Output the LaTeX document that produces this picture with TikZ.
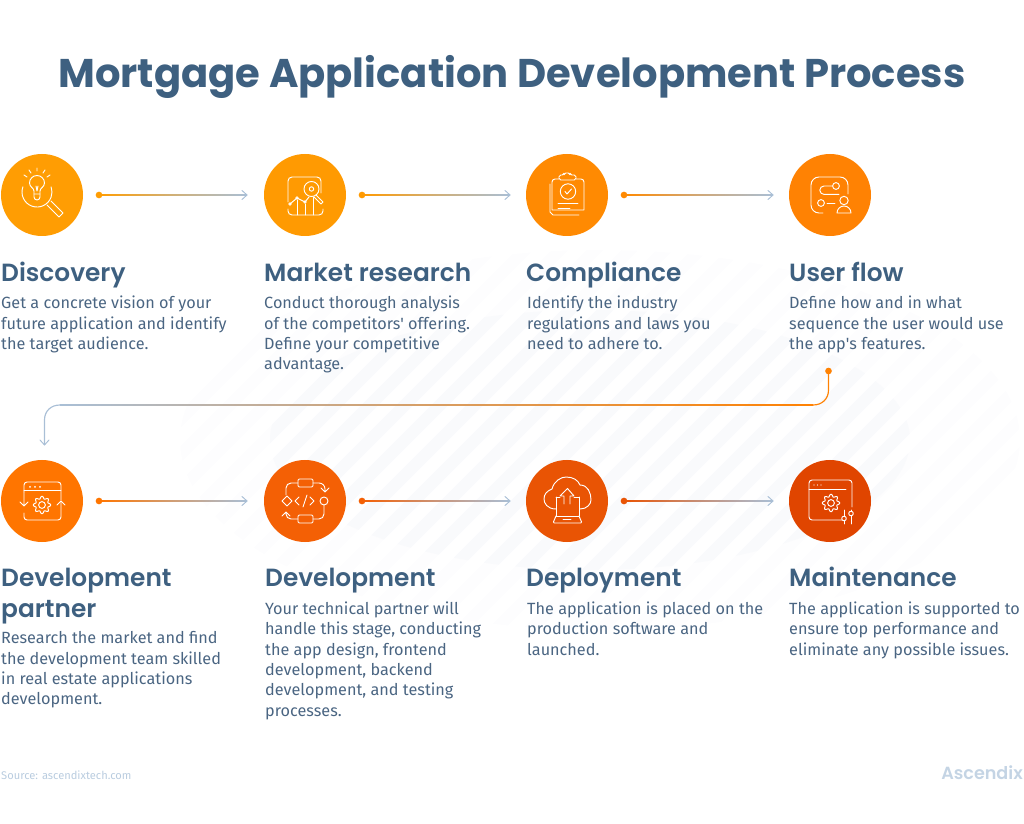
\documentclass[tikz,border=0pt]{standalone}
\usepackage{fontspec}
\setmainfont{Fira Sans}
\newfontfamily\headfont{Poppins SemiBold}
\newfontfamily\titlefont{Poppins}
\usetikzlibrary{calc}

\definecolor{titleblue}{HTML}{3E6080}
\definecolor{bodyblue}{HTML}{4A6582}
\definecolor{paleblue}{HTML}{B9CCDF}
\definecolor{lineblue}{HTML}{A9BFD6}
\definecolor{stripeout}{HTML}{FDFDFE}
\definecolor{stripein}{HTML}{F9FAFC}
\definecolor{stepa}{HTML}{FF9D03}
\definecolor{stepb}{HTML}{FF9A02}
\definecolor{stepc}{HTML}{FF8A02}
\definecolor{stepd}{HTML}{FF8203}
\definecolor{stepe}{HTML}{FF7500}
\definecolor{stepf}{HTML}{F46005}
\definecolor{stepg}{HTML}{E95404}
\definecolor{steph}{HTML}{E04500}

\tikzset{
  stepdot/.style={circle, fill=#1, minimum size=2.46cm, inner sep=0pt},
  startdot/.style={circle, fill=#1, minimum size=0.2cm, inner sep=0pt},
  flowline/.style={line width=1pt, lineblue},
  tipline/.style={line width=0.8pt, lineblue, line cap=round},
  iconline/.style={white, line width=0.8pt, line cap=round, line join=round},
  headtext/.style={anchor=north west, inner sep=0pt, text=titleblue,
    font=\headfont\fontsize{21.2}{26}\selectfont, align=left,
    execute at begin node=\strut},
  bodytext/.style={anchor=north west, inner sep=0pt, text=bodyblue,
    font=\fontsize{13.85}{17.35}\selectfont, align=left,
    execute at begin node=\strut},
}

% line that runs from one colour into another
\newcommand{\gradline}[4]{
  \draw[flowline] (#1) -- (#2);
  \shade[left color=#3, right color=#4, shading angle=90, middle color=#3!45!#4]
    ($(#1)+(0,-0.6)$) rectangle ($(#2)+(0,0.6)$);
}
\newcommand{\arrowtip}[1]{
  \draw[tipline] ($(#1)+(-5,-4.5)$) -- (#1) -- ($(#1)+(-5,4.5)$);
}
\newcommand{\geardraw}[3]{
  \draw[iconline] plot[smooth, samples=81, domain=0:360]
    ({#1+(#3+1.3*cos(8*\x))*cos(\x)}, {#2+(#3+1.3*cos(8*\x))*sin(\x)});
  \draw[iconline] (#1,#2) circle (#3*0.45);
}

\begin{document}
\begin{tikzpicture}[x=0.03cm, y=-0.03cm]
\useasboundingbox (0,0) rectangle (1024,824);

% stripes behind
\begin{scope}
\clip (600,440) ellipse (420 and 190);
\foreach \s in {0,...,36} {
  \draw[stripeout, line width=0.36cm] (-100+\s*35,700) -- (400+\s*35,200);
}
\end{scope}
\begin{scope}
\clip (590,440) ellipse (320 and 130);
\foreach \s in {0,...,36} {
  \draw[stripein, line width=0.36cm] (-100+\s*35,700) -- (400+\s*35,200);
}
\end{scope}

\node[anchor=center, text=titleblue, font=\titlefont\bfseries\fontsize{34.2}{40}\selectfont]
  (title) at (512,77) {Mortgage Application Development Process};

% first row
\node[stepdot=stepa] (discovery) at (42,195) {};
\node[stepdot=stepb] (market) at (305,195) {};
\node[stepdot=stepc] (compliance) at (567,195) {};
\node[stepdot=stepd] (userflow) at (830,195) {};
% second row
\node[stepdot=stepe] (partner) at (42,501) {};
\node[stepdot=stepf] (develop) at (305,501) {};
\node[stepdot=stepg] (deploy) at (567,501) {};
\node[stepdot=steph] (maintain) at (830,501) {};

% connectors
\node[startdot=stepa] (dota) at (99,195) {};
\coordinate (tipa) at (247,195);
\node[startdot=stepb] (dotb) at (362,195) {};
\coordinate (tipb) at (510,195);
\node[startdot=stepc] (dotc) at (624,195) {};
\coordinate (tipc) at (773,195);
\node[startdot=stepe] (dote) at (99,501) {};
\coordinate (tipe) at (247,501);
\node[startdot=stepf] (dotf) at (362,501) {};
\coordinate (tipf) at (510,501);
\node[startdot=stepg] (dotg) at (624,501) {};
\coordinate (tipg) at (773,501);

\gradline{dota.center}{tipa}{stepa}{lineblue}
\gradline{dotb.center}{tipb}{stepb}{lineblue}
\gradline{dotc.center}{tipc}{stepc}{lineblue}
\gradline{dote.center}{tipe}{stepe}{lineblue}
\gradline{dotf.center}{tipf}{stepf}{lineblue}
\gradline{dotg.center}{tipg}{stepg}{lineblue}
\arrowtip{tipa}
\arrowtip{tipb}
\arrowtip{tipc}
\arrowtip{tipe}
\arrowtip{tipf}
\arrowtip{tipg}

% long way back
\node[startdot=stepd] (dotd) at (828.5,371) {};
\coordinate (bendr) at (813,405);
\coordinate (bendl) at (60,405);
\coordinate (tipd) at (44.5,445);
\draw[line width=1pt, stepd] (dotd.center) -- (828.5,390)
  .. controls (828.5,399) and (822,405) .. (bendr);
\gradline{bendl}{bendr}{lineblue}{stepd}
\draw[flowline] (bendl) .. controls (51,405) and (44.5,411) .. (44.5,420) -- (tipd);
\draw[tipline] (40,440) -- (tipd) -- (49,440);

% icon: lamp and glass
\begin{scope}[shift={(discovery)}]
\draw[iconline] (-8,-4) .. controls (-8,-7) and (-12.5,-8) .. (-12.5,-12)
  arc (180:360:7.5) .. controls (2.5,-8) and (-2,-7) .. (-2,-4);
\draw[iconline] (-8,-4) -- (-8,2) arc (180:0:3) -- (-2,-4);
\draw[iconline] (-8,-1) -- (-2,-1) (-6,-9) -- (-5,-4) -- (-4,-9);
\draw[iconline] (-5,-24) -- (-5,-27) (1,-22) -- (3,-25) (5,-18) -- (8,-20)
  (-11,-22) -- (-13,-25) (-15,-18) -- (-18,-20);
\draw[iconline] (-19.1,-8.1) arc (200:-20:15);
\draw[iconline] (5,10) -- (17,22) -- (21,18) -- (9,6);
\end{scope}

% icon: chart and glass
\begin{scope}[shift={(market)}]
\draw[iconline] (-17,7) -- (-17,-14) arc (180:270:4) -- (12,-18) arc (270:360:4) -- (16,-2);
\draw[iconline] (18,14) -- (18,16) arc (0:90:4) -- (-13,20) arc (90:180:4) -- (-17,14);
\draw[iconline] (6.5,-6) circle (7.5) (6.5,-6) circle (2.2);
\draw[iconline] (11,0) -- (18,7) -- (16,9) -- (9,2);
\draw[iconline] (-15,9) -- (-8,3) -- (0,7) -- (4,2);
\draw[iconline] (-15,9) circle (1.3) (-8,3) circle (1.3) (0,7) circle (1.3);
\draw[iconline] (-8,5) -- (-8,20) (0,9) -- (0,20) (8,2) -- (8,20);
\end{scope}

% icon: clipboard
\begin{scope}[shift={(compliance)}]
\draw[iconline] (-8,-16) -- (-12,-16) arc (270:180:3) -- (-15,15) -- (17,15) -- (17,-13)
  arc (360:270:3) -- (9,-16);
\draw[iconline, rounded corners=1.5] (-8,-15) -- (-8,-20) -- (-3,-20) -- (-3,-22)
  -- (3,-22) -- (3,-20) -- (9,-20) -- (9,-15) -- cycle;
\draw[iconline] (-17,-11) -- (-17,17) -- (-14,20) -- (12,20);
\draw[iconline] (1,-3.5) circle (7.7);
\draw[iconline] (-2,-3.5) -- (0,-1) -- (4.5,-6);
\draw[iconline] (-9,8) -- (11,8) (-9,13) -- (3,13);
\end{scope}

% icon: user flow
\begin{scope}[shift={(userflow)}]
\draw[iconline] (-7,18) -- (-11,18) arc (90:180:8) -- (-19,-10) arc (180:270:8)
  -- (10,-18) arc (270:360:8) -- (18,-1);
\draw[iconline] (6,-9) circle (3.4);
\draw[iconline] (2,-9) -- (-6,-9) arc (270:90:4.2) -- (9,-0.6);
\draw[iconline] (-9,8) circle (3.4);
\draw[iconline] (-3,8) -- (5,8);
\draw[iconline] (14,5.5) circle (4.2);
\draw[iconline] (7,18) arc (180:360:7) -- cycle;
\end{scope}

% icon: browser and loop
\begin{scope}[shift={(partner)}]
\draw[iconline] (-18,-9) -- (-18,-16) arc (180:270:3) -- (16,-19) arc (270:360:3) -- (19,-1);
\draw[iconline] (-18,-11) -- (19,-11);
\fill[white] (-12,-14) circle (1) (-7,-14) circle (1) (-2,-14) circle (1);
\draw[iconline] (-18,-9) -- (-18,5) (-22,1) -- (-18,5) -- (-14,1);
\draw[iconline] (-18,12) -- (-18,16) arc (180:90:3) -- (16,19) arc (90:0:3) -- (19,0);
\draw[iconline] (15,4) -- (19,0) -- (23,4);
\geardraw{0}{4}{7.5}
\end{scope}

% icon: code flow
\begin{scope}[shift={(develop)}]
\draw[iconline, rounded corners=1] (-7,-22) rectangle (8,-14);
\draw[iconline] (-7,-18) -- (-14,-18) arc (270:180:5) -- (-19,-6);
\draw[iconline] (8,-18) -- (14,-18) arc (270:360:6) -- (20,-9) (16,-13) -- (20,-9) -- (24,-13);
\draw[iconline] (-23,0) -- (-18,-5) -- (-13,0) -- (-18,5) -- cycle;
\draw[iconline] (19,0) circle (4);
\draw[iconline] (19,4) -- (19,13) arc (0:90:5) -- (8,18);
\draw[iconline, rounded corners=1] (-7,14) rectangle (8,22);
\draw[iconline] (-7,18) -- (-14,18) arc (90:180:5) -- (-19,11) (-23,15) -- (-19,11) -- (-15,15);
\draw[iconline] (-6,-4) -- (-10,0) -- (-6,4) (5,-4) -- (9,0) -- (5,4) (2,-6) -- (-2,6);
\end{scope}

% icon: cloud and laptop
\begin{scope}[shift={(deploy)}]
\draw[iconline] (-11,8) .. controls (-20,8) and (-23,2) .. (-23,-2)
  .. controls (-23,-7) and (-20,-10) .. (-15,-12)
  .. controls (-13,-20) and (-6,-24) .. (-1,-24)
  .. controls (6,-24) and (11,-21) .. (13,-16)
  .. controls (21,-16) and (24,-8) .. (24,-1)
  .. controls (24,3) and (20,8) .. (13,8);
\draw[iconline] (-11,-4) -- (-11,15) (12,-4) -- (12,15) (-11,-4) -- (-7,-4) (7,-4) -- (12,-4);
\draw[iconline] (-3,3) -- (-3,-5) -- (-7,-5) -- (0.5,-12.5) -- (7,-5) -- (3,-5) -- (3,3);
\draw[iconline, rounded corners=1] (-11,15) -- (-14,22) -- (15,22) -- (12,15);
\draw[iconline] (-11,15) -- (12,15) (-4,18.5) -- (4,18.5);
\end{scope}

% icon: settings window
\begin{scope}[shift={(maintain)}]
\draw[iconline] (12,19) -- (-18,19) arc (90:180:3) -- (-21,-18) arc (180:270:3)
  -- (19,-21) arc (270:360:3) -- (22,6);
\draw[iconline] (-21,-12) -- (16,-12);
\fill[white] (-16,-16) circle (0.7) (-12.5,-16) circle (0.7) (-9,-16) circle (0.7);
\geardraw{1}{2}{7.5}
\draw[iconline] (14,9) -- (14,15) (14,20) -- (14,23) (21,9) -- (21,10) (21,15) -- (21,23);
\draw[iconline] (14,17.5) circle (2.3) (21,12.5) circle (2.3);
\end{scope}

% headings
\node[headtext] (discoveryhead) at (1,260) {Discovery};
\node[headtext] (markethead) at (264,260) {Market research};
\node[headtext] (compliancehead) at (526,260) {Compliance};
\node[headtext] (userflowhead) at (789,260) {User flow};
\node[headtext] (partnerhead) at (1,568) {Development\\partner};
\node[headtext] (develophead) at (265,565) {Development};
\node[headtext] (deployhead) at (526,565) {Deployment};
\node[headtext] (maintainhead) at (789,565) {Maintenance};

% body texts
\node[bodytext] (discoverytext) at (1,296) {Get a concrete vision of your\\future application and identify\\the target audience.};
\node[bodytext] (markettext) at (264,296) {Conduct thorough analysis\\of the competitors\textquotesingle{} offering.\\Define your competitive\\advantage.};
\node[bodytext] (compliancetext) at (527,296) {Identify the industry\\regulations and laws you\\need to adhere to.};
\node[bodytext] (userflowtext) at (789,296) {Define how and in what\\sequence the user would use\\the app\textquotesingle{}s features.};
\node[bodytext] (partnertext) at (1,631.5) {Research the market and find\\the development team skilled\\in real estate applications\\development.};
\node[bodytext] (developtext) at (265,601.5) {Your technical partner will\\handle this stage, conducting\\the app design, frontend\\development, backend\\development, and testing\\processes.};
\node[bodytext] (deploytext) at (527,601.5) {The application is placed on the\\production software and\\launched.};
\node[bodytext] (maintaintext) at (789,601.5) {The application is supported to\\ensure top performance and\\eliminate any possible issues.};

% footer
\node[anchor=west, inner sep=0pt, text=paleblue, font=\fontsize{9.5}{11}\selectfont] (source) at (1,775) {Source: ascendixtech.com};
\node[anchor=east, inner sep=0pt, text=paleblue!85, font=\headfont\fontsize{15}{17}\selectfont] (brand) at (1023,773) {Ascendix};

\end{tikzpicture}
\end{document}
